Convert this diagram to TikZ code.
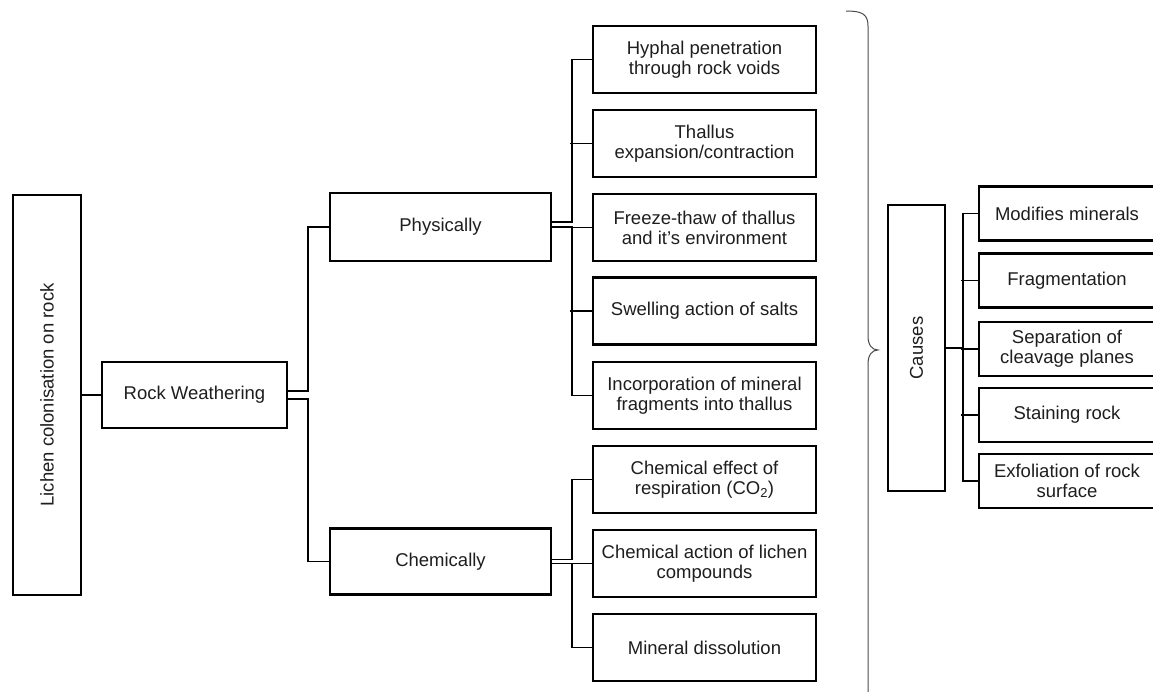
\documentclass[tikz,border=0pt]{standalone}
\usepackage{fontspec}
\setmainfont{Liberation Sans}
\usetikzlibrary{positioning,calc}
\definecolor{inkgrey}{HTML}{1E1E1E}
\definecolor{bracegrey}{HTML}{4A4A4A}

\begin{document}
\begin{tikzpicture}[x=1pt,y=-1pt,font=\fontsize{18.5}{20}\selectfont,
  box/.style={draw=black,line width=2.3pt,text=inkgrey,align=center,inner sep=2pt},
  leaf/.style={box,minimum width=223pt,minimum height=67pt},
  causeleaf/.style={box,minimum width=176pt,minimum height=54pt},
  link/.style={draw=black,line width=1.6pt}]
\clip (0,0) rectangle (1153,691);
\fill[white] (0,0) rectangle (1153,691);
% main chain
\node[box,rotate=90,minimum width=400pt,minimum height=68pt] (lichen) at (47,395) {Lichen colonisation on rock};
\node[box,minimum width=185pt,minimum height=66pt] (rw) at (194.5,395) {Rock Weathering};
\node[box,minimum width=221pt,minimum height=68pt] (phys) at (440.5,227) {Physically};
\node[box,minimum width=221pt,minimum height=66pt] (chem) at (440.5,561.5) {Chemically};
% leaves
\foreach \leafname/\ypos/\leaftext in {
  hyphal/59.5/{Hyphal penetration\\through rock voids},
  thallus/143.5/{Thallus\\expansion/contraction},
  freeze/227.5/{Freeze-thaw of thallus\\and it’s environment},
  swelling/311/{Swelling action of salts},
  incorp/395.5/{Incorporation of mineral\\fragments into thallus},
  respir/479.5/{Chemical effect of\\respiration (CO\textsubscript{2})},
  compounds/563.5/{Chemical action of lichen\\compounds},
  dissol/647.5/{Mineral dissolution}}
  \node[leaf] (\leafname) at (704.5,\ypos) {\leaftext};
\node[box,rotate=90,minimum width=286pt,minimum height=57pt] (causes) at (916.5,348) {Causes};
\foreach \leafname/\ypos/\leaftext in {
  modifies/213.5/{Modifies minerals},
  fragment/280.5/{Fragmentation},
  cleavage/349/{Separation of\\cleavage planes},
  staining/415/{Staining rock},
  exfol/481/{Exfoliation of rock\\surface}}
  \node[causeleaf] (\leafname) at (1067,\ypos) {\leaftext};
% connectors
\draw[link] (lichen.south) -- (rw.west);
\draw[link] ([yshift=4pt]rw.east) -- ++(20,0) |- (phys.west);
\draw[link] ([yshift=-4pt]rw.east) -- ++(20,0) |- (chem.west);
\draw[link] ([yshift=5pt]phys.east) -- ++(20,0) |- (hyphal.west);
\draw[link] (phys.east) -- ++(20,0) |- (incorp.west);
\foreach \leafname in {thallus,freeze,swelling}
  \draw[link] (\leafname.west) -- ++(-22,0);
\draw[link] ([yshift=2pt]chem.east) -- ++(20,0) |- (respir.west);
\draw[link] ([yshift=-2pt]chem.east) -- ++(20,0) |- (dissol.west);
\draw[link] (compounds.west) -- ++(-22,0);
\draw[link] (causes.south) -- ++(17,0) |- (modifies.west);
\draw[link] (causes.south) -- ++(17,0) |- (exfol.west);
\foreach \leafname in {fragment,cleavage,staining}
  \draw[link] (\leafname.west) -- ++(-17,0);
% brace
\draw[bracegrey,line width=1pt] (846,11) .. controls (862,11) and (868,14) .. (868,26)
  -- (868,336) .. controls (868,345) and (872,350) .. (878,350)
  .. controls (872,350) and (868,355) .. (868,364) -- (868,700);
\end{tikzpicture}
\end{document}
